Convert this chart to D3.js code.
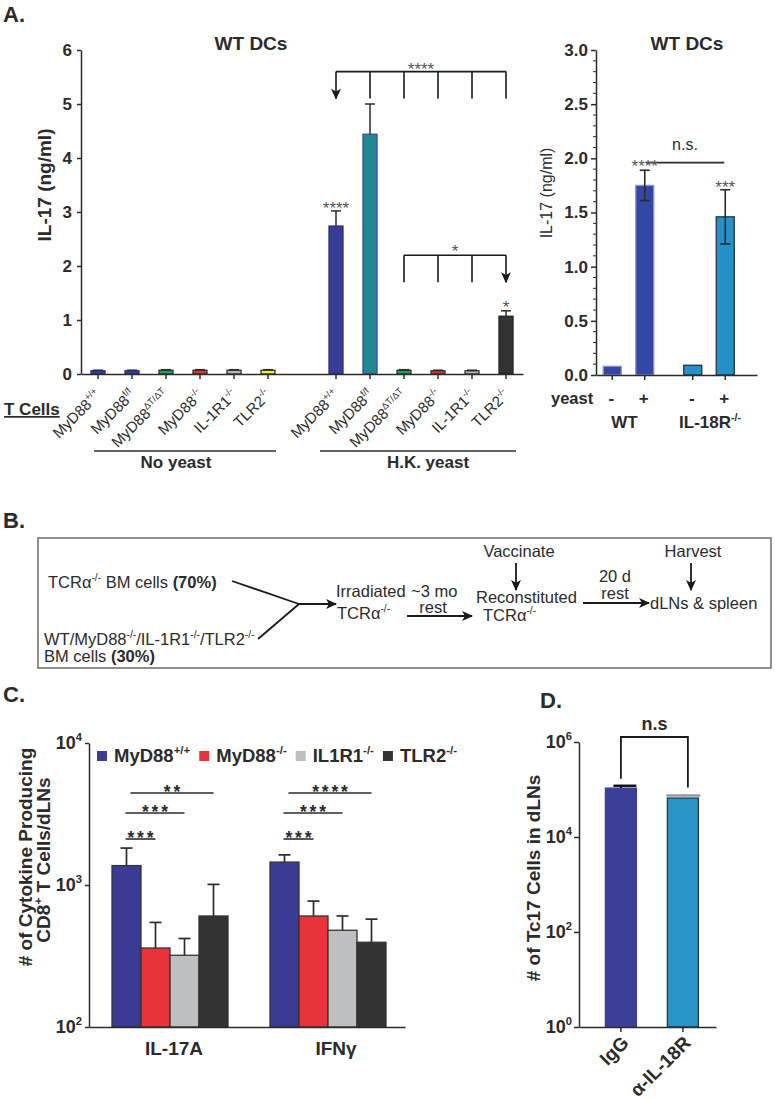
<!DOCTYPE html>
<html><head><meta charset="utf-8">
<script src="https://cdn.jsdelivr.net/npm/d3@7"></script>
<style>
body{margin:0;background:#fff}
svg text{font-family:"Liberation Sans",Arial,Helvetica,sans-serif}
</style>
</head><body>
<svg id="c" width="775" height="1100"></svg>
<script>
// ---------------- DATA ----------------
// Panel A (left): IL-17 (ng/ml), T-cell genotypes with WT DCs
const aGenotypes = ["MyD88|+/+","MyD88|f/f","MyD88|ΔT/ΔT","MyD88|-/-","IL-1R1|-/-","TLR2|-/-"];
const aNoYeast    = [0.06,0.06,0.07,0.07,0.07,0.07];
const aNoYeastErr = [0.01,0.01,0.01,0.01,0.01,0.01];
const aHK         = [2.74,4.44,0.07,0.06,0.06,1.07];
const aHKErr      = [0.28,0.56,0.01,0.01,0.01,0.10];
const aYTicks     = [0,1,2,3,4,5,6];
// Panel A (right)
const a2Groups = ["WT","IL-18R"];
const a2Yeast  = ["-","+"];
const a2Values = [[0.08,1.75],[0.09,1.46]];
const a2Err    = [[0,0.14],[0,0.25]];
const a2YTicks = [0,0.5,1,1.5,2,2.5,3];
// Panel C
const cCytokines = ["IL-17A","IFNγ"];
const cGenotypes = ["MyD88|+/+","MyD88|-/-","IL1R1|-/-","TLR2|-/-"];
const cValues    = [[1370,360,320,605],[1450,605,480,395]];
const cErrTop    = [[1820,545,420,1010],[1630,770,605,575]];
const cSig       = [["***","***","**"],["***","***","****"]];
const cYTicks    = [100,1000,10000];
// Panel D
const dGroups  = ["IgG","α-IL-18R"];
const dValues  = [1.07e5,6.6e4];
const dErrTop  = [1.2e5,7.5e4];
const dYTicks  = [1,100,1e4,1e6];

// ---------------- STYLE ----------------
const INK = "#2b2b2b";
const aFillNo  = ["#383c97","#383c97","#16a05a","#e5303a","#b3b3b3","#f3ea2b"];
const aFillHK  = ["#383c97","#21888e","#16a05a","#e5303a","#b3b3b3","#333333"];
const aStrokeHK= ["#2c2f78","#3b48a8","#333","#333","#333","#222"];
const a2Fill   = ["#3446a6","#2690c9"];
const a2Stroke = ["#8a94d0","#1f3444"];
const cFill    = ["#3b3b95","#e9333b","#bdbfc1","#333333"];
const dFill    = ["#3c3f97","#2a94c6"];
const dStroke  = ["#3c3f97","#1d3a4c"];
const dCap     = ["#111","#999"];

const svg = d3.select("#c");
const defs = svg.append("defs");
defs.append("marker").attr("id","arr").attr("viewBox","0 0 10 10")
  .attr("refX",9).attr("refY",5).attr("markerWidth",11).attr("markerHeight",11)
  .attr("markerUnits","userSpaceOnUse").attr("orient","auto")
  .append("path").attr("d","M0,0.5 L10,5 L0,9.5 L2.5,5 Z").attr("fill","#1a1a1a");

function rich(sel, str, fs){
  const parts = Array.isArray(str) ? str : (str.includes("|") ? [str.split("|")[0], "^"+str.split("|")[1]] : [str]);
  sel.text(null);
  let raised = false;
  parts.forEach(p=>{
    const t = sel.append("tspan");
    if (p.startsWith("^")) {
      t.text(p.slice(1)).attr("font-size", fs*0.62).attr("dy", raised?0:-fs*0.42);
      raised = true;
    } else {
      let s = p;
      if (p.startsWith("*")) { s = p.slice(1); t.attr("font-weight","bold"); }
      t.text(s).attr("dy", raised? fs*0.42 : 0);
      raised = false;
    }
  });
  return sel;
}
function styleAxis(g, fs, weight){
  g.select(".domain").attr("stroke",INK).attr("stroke-width",1.5);
  g.selectAll(".tick line").attr("stroke",INK).attr("stroke-width",1.5);
  g.selectAll(".tick text").attr("font-size",fs).attr("font-weight",weight).attr("fill",INK)
   .attr("font-family",'"Liberation Sans",Arial,sans-serif');
}
function supTicks(g, fs){
  g.selectAll(".tick text").each(function(d){
    const t = d3.select(this); t.text(null);
    t.append("tspan").text("10");
    t.append("tspan").attr("font-size",fs*0.62).attr("dy",-fs*0.45).text(Math.round(Math.log10(d)));
  });
}
function label(g, x, y, txt, fs, weight, anchor, fill){
  return g.append("text").attr("x",x).attr("y",y).attr("font-size",fs)
    .attr("font-weight",weight||"normal").attr("text-anchor",anchor||"start")
    .attr("fill",fill||INK).text(txt);
}
function arrowLine(g, x1,y1,x2,y2, w){
  g.append("line").attr("x1",x1).attr("y1",y1).attr("x2",x2).attr("y2",y2)
    .attr("stroke","#1a1a1a").attr("stroke-width",w||1.8).attr("marker-end","url(#arr)");
}
function plainLine(g, x1,y1,x2,y2, w, c){
  g.append("line").attr("x1",x1).attr("y1",y1).attr("x2",x2).attr("y2",y2)
    .attr("stroke",c||"#1a1a1a").attr("stroke-width",w||1.6);
}

// ---------------- PANEL LETTERS ----------------
label(svg,3,22,"A.",22,"bold");
label(svg,3,528,"B.",22,"bold");
label(svg,3,702,"C.",22,"bold");
label(svg,540,708,"D.",22,"bold");

// ---------------- PANEL A LEFT ----------------
{
const g = svg.append("g");
const y = d3.scaleLinear().domain([0,6]).range([374,50]);
const slots = [...aGenotypes.map(d=>"N:"+d),"gap",...aGenotypes.map(d=>"H:"+d)];
const x = d3.scaleBand().domain(slots).range([81,523]).paddingInner(0.588).paddingOuter(0.294);
const bw = x.bandwidth();
const bars = [
  ...aGenotypes.map((d,i)=>({k:"N:"+d, v:aNoYeast[i], e:aNoYeastErr[i], f:aFillNo[i], s:i<2?"#2c2f78":"#333"})),
  ...aGenotypes.map((d,i)=>({k:"H:"+d, v:aHK[i], e:aHKErr[i], f:aFillHK[i], s:aStrokeHK[i]}))
];
g.selectAll("rect.b").data(bars).join("rect").attr("class","b")
  .attr("x",d=>x(d.k)).attr("width",bw).attr("y",d=>y(d.v)).attr("height",d=>y(0)-y(d.v))
  .attr("fill",d=>d.f).attr("stroke",d=>d.s).attr("stroke-width",1.3);
bars.forEach(d=>{
  const cx = x(d.k)+bw/2;
  plainLine(g,cx,y(d.v),cx,y(d.v+d.e),1.5,INK);
  plainLine(g,cx-5,y(d.v+d.e),cx+5,y(d.v+d.e),1.5,INK);
});
const ya = g.append("g").attr("transform","translate(81,0)")
  .call(d3.axisLeft(y).tickValues(aYTicks).tickSize(4).tickPadding(5).tickSizeOuter(0).tickFormat(d3.format("d")));
styleAxis(ya,17,"bold");
const xa = g.append("g").attr("transform","translate(0,374)")
  .call(d3.axisBottom(x).tickValues(slots.filter(s=>s!=="gap")).tickSize(5).tickSizeOuter(0).tickFormat(""));
styleAxis(xa,15,"normal");
slots.filter(s=>s!=="gap").forEach(s=>{
  const cx = x(s)+bw/2;
  const t = g.append("text").attr("transform",`translate(${cx+4},396) rotate(-45)`)
    .attr("text-anchor","end").attr("font-size",15).attr("fill",INK);
  rich(t, s.slice(2), 15);
});
label(g,251,50,"WT DCs",19,"bold","middle");
g.append("text").attr("transform","translate(51,185) rotate(-90)").attr("text-anchor","middle")
  .attr("font-size",19).attr("font-weight","bold").attr("fill",INK).text("IL-17 (ng/ml)");
label(g,4,415,"T Cells",17,"bold").attr("text-decoration","underline");
const cN0 = x(slots[0])+bw/2, cN5 = x(slots[5])+bw/2, cH0 = x(slots[7])+bw/2, cH5 = x(slots[12])+bw/2;
plainLine(g,cN0-4,451,cN5+8,451,1.6,INK);
plainLine(g,cH0-16,451,cH5+10,451,1.6,INK);
label(g,(cN0+cN5)/2-7,468,"No yeast",17,"bold","middle");
label(g,(cH0+cH5)/2+7,468,"H.K. yeast",17,"bold","middle");
const hx = i => x("H:"+aGenotypes[i])+bw/2;
const b1 = y(5.6), b1b = y(5.1);
plainLine(g,hx(0),b1,hx(5),b1,1.6);
[1,2,3,4,5].forEach(i=>plainLine(g,hx(i),b1,hx(i),b1b,1.6));
arrowLine(g,hx(0),b1,hx(0),b1b,1.6);
label(g,(hx(0)+hx(5))/2,b1+3,"****",17,"normal","middle","#555");
const b2 = y(2.2), b2b = y(1.7);
plainLine(g,hx(2),b2,hx(5),b2,1.6);
[2,3,4].forEach(i=>plainLine(g,hx(i),b2,hx(i),b2b,1.6));
arrowLine(g,hx(5),b2,hx(5),b2b,1.6);
label(g,(hx(2)+hx(5))/2,b2+2,"*",17,"normal","middle","#555");
label(g,hx(0),y(aHK[0]+aHKErr[0])+3,"****",17,"normal","middle","#555");
label(g,hx(5),y(aHK[5]+aHKErr[5])+2,"*",17,"normal","middle","#555");
}

// ---------------- PANEL A RIGHT ----------------
{
const g = svg.append("g");
const y = d3.scaleLinear().domain([0,3]).range([375,50]);
const xg = d3.scaleBand().domain(a2Groups).range([596,757]);
const xi = d3.scaleBand().domain(a2Yeast).range([0,65]).paddingInner(0.446).paddingOuter(0.223);
const bw = xi.bandwidth();
const bars = [];
a2Groups.forEach((gr,gi)=>a2Yeast.forEach((ye,yi)=>bars.push({gr,ye,gi,v:a2Values[gi][yi],e:a2Err[gi][yi]})));
const bx = d=>xg(d.gr)+xi(d.ye);
g.selectAll("rect").data(bars).join("rect")
  .attr("x",bx).attr("width",bw).attr("y",d=>y(d.v)).attr("height",d=>y(0)-y(d.v))
  .attr("fill",d=>a2Fill[d.gi]).attr("stroke",d=>a2Stroke[d.gi]).attr("stroke-width",1.3);
bars.filter(d=>d.e>0).forEach(d=>{
  const cx = bx(d)+bw/2;
  plainLine(g,cx,y(d.v-d.e),cx,y(d.v+d.e),1.6,INK);
  plainLine(g,cx-5,y(d.v+d.e),cx+5,y(d.v+d.e),1.6,INK);
  plainLine(g,cx-5,y(d.v-d.e),cx+5,y(d.v-d.e),1.6,INK);
});
const ya = g.append("g").attr("transform","translate(596,0)")
  .call(d3.axisLeft(y).tickValues(a2YTicks).tickSize(5).tickPadding(3).tickSizeOuter(0).tickFormat(d3.format(".1f")));
styleAxis(ya,17,"bold");
const minor = d3.range(0,3.001,0.1).filter(v=>Math.abs(v*2-Math.round(v*2))>1e-6);
g.selectAll("line.mn").data(minor).join("line").attr("class","mn")
  .attr("x1",593).attr("x2",596).attr("y1",d=>y(d)).attr("y2",d=>y(d)).attr("stroke",INK).attr("stroke-width",1);
const xa = g.append("g").attr("transform","translate(0,375)")
  .call(d3.axisBottom(xg).tickValues([]).tickSizeOuter(0));
styleAxis(xa,15,"normal");
bars.forEach(d=>plainLine(g,bx(d)+bw/2,375,bx(d)+bw/2,380,1.5,INK));
label(g,687,50,"WT DCs",19,"bold","middle");
g.append("text").attr("transform","translate(552,193) rotate(-90)").attr("text-anchor","middle")
  .attr("font-size",16).attr("fill",INK).text("IL-17 (ng/ml)");
const c1 = xg(a2Groups[0])+xi("+")+bw/2, c2 = xg(a2Groups[1])+xi("+")+bw/2;
plainLine(g,c1+1,y(1.96),c2-1,y(1.96),1.6,INK);
label(g,(c1+c2)/2,150,"n.s.",16,"normal","middle");
label(g,c1,y(a2Values[0][1]+a2Err[0][1])+2,"****",17,"normal","middle","#555");
label(g,c2,y(a2Values[1][1]+a2Err[1][1])+3,"***",17,"normal","middle","#555");
label(g,551,404,"yeast",16.5,"bold");
bars.forEach(d=>label(g,bx(d)+bw/2-1,404,d.ye,17,"bold","middle"));
a2Groups.forEach((gr,gi)=>{
  const t = g.append("text").attr("x",xg(gr)+(xi("-")+xi("+")+bw)/2+(gi?1:-4)).attr("y",428)
    .attr("text-anchor","middle").attr("font-size",17).attr("font-weight","bold").attr("fill",INK);
  rich(t, gi? "IL-18R|-/-" : "WT", 17);
});
}

// ---------------- PANEL B ----------------
{
const g = svg.append("g");
g.append("rect").attr("x",38).attr("y",538).attr("width",733).attr("height",130)
  .attr("fill","none").attr("stroke","#555").attr("stroke-width",1.3);
const fs = 16.5;
rich(label(g,48,588,"",fs), ["TCRα","^-/-"," BM cells ","*(70%)"], fs);
rich(label(g,44,645,"",fs), ["WT/MyD88","^-/-","/IL-1R1","^-/-","/TLR2","^-/-"], fs);
rich(label(g,44,662,"",fs), ["BM cells ","*(30%)"], fs);
plainLine(g,232,581,299,604,1.8);
plainLine(g,258,639,299,604,1.8);
arrowLine(g,299,604,336,604,1.8);
label(g,336,597,"Irradiated",fs);
rich(label(g,337,619,"",fs), ["TCRα","^-/-"], fs);
label(g,411,597,"~3 mo",fs);
label(g,433,613,"rest",fs,"normal","middle");
arrowLine(g,407,616,472,616,1.8);
label(g,519,557,"Vaccinate",fs,"normal","middle");
arrowLine(g,516,563,516,590,1.8);
label(g,476,603,"Reconstituted",fs);
rich(label(g,483,621,"",fs), ["TCRα","^-/-"], fs);
label(g,615,582,"20 d",fs,"normal","middle");
label(g,615,599,"rest",fs,"normal","middle");
arrowLine(g,583,603,649,603,1.8);
label(g,693,557,"Harvest",fs,"normal","middle");
arrowLine(g,691,563,691,590,1.8);
label(g,650,609,"dLNs & spleen",fs);
}

// ---------------- PANEL C ----------------
{
const g = svg.append("g");
const y = d3.scaleLog().domain([100,10000]).range([1027,743]);
const xg = d3.scaleBand().domain(cCytokines).range([89,405]);
const xi = d3.scaleBand().domain(cGenotypes).range([23,139]);
const bw = xi.bandwidth();
const bars = [];
cCytokines.forEach((c,ci)=>cGenotypes.forEach((gt,gi)=>bars.push({c,ci,gt,gi,v:cValues[ci][gi],e:cErrTop[ci][gi]})));
const bx = d=>xg(d.c)+xi(d.gt);
bars.forEach(d=>{
  const cx = bx(d)+bw/2;
  plainLine(g,cx,y(d.v),cx,y(d.e),1.7,INK);
  plainLine(g,cx-6,y(d.e),cx+6,y(d.e),1.7,INK);
});
g.selectAll("rect.b").data(bars).join("rect").attr("class","b")
  .attr("x",bx).attr("width",bw).attr("y",d=>y(d.v)).attr("height",d=>y(100)-y(d.v))
  .attr("fill",d=>cFill[d.gi]).attr("stroke","#333").attr("stroke-width",1.3);
const ya = g.append("g").attr("transform","translate(89,0)")
  .call(d3.axisLeft(y).tickValues(cYTicks).tickSize(4).tickPadding(3).tickSizeOuter(0));
styleAxis(ya,18,"bold"); supTicks(ya,18);
const xa = g.append("g").attr("transform","translate(0,1027)")
  .call(d3.axisBottom(xg).tickValues([]).tickSizeOuter(0));
styleAxis(xa,18,"bold");
cCytokines.forEach((c,ci)=>label(g,xg(c)+xg.bandwidth()/2+(ci?10:6),1055,c,19,"bold","middle"));
g.append("text").attr("transform","translate(32,857) rotate(-90)").attr("text-anchor","middle")
  .attr("font-size",19).attr("font-weight","bold").attr("fill",INK).text("# of Cytokine Producing");
rich(g.append("text").attr("transform","translate(50,860) rotate(-90)").attr("text-anchor","middle")
  .attr("font-size",19).attr("font-weight","bold").attr("fill",INK), ["CD8","^+"," T Cells/dLNs"], 19);
let lx = 97;
cGenotypes.forEach((gt,gi)=>{
  g.append("rect").attr("x",lx).attr("y",751).attr("width",10).attr("height",10).attr("fill",cFill[gi]);
  const t = label(g,lx+17,762,"",18.5,"bold");
  rich(t, gt, 18.5);
  lx = lx + 17 + t.node().getComputedTextLength() + 9;
});
const sigY = [839,813,793];
cCytokines.forEach((c,ci)=>{
  const c0 = xg(c)+xi(cGenotypes[0])+bw/2;
  [1,2,3].forEach(k=>{
    const ck = xg(c)+xi(cGenotypes[k])+bw/2;
    const x0 = c0 + (k===3?4:-1);
    plainLine(g,x0,sigY[k-1],ck,sigY[k-1],1.6,INK);
    label(g,(x0+ck)/2+1.4,sigY[k-1]+5,cSig[ci][k-1],17.5,"bold","middle")
      .attr("letter-spacing",2.8);
  });
});
}

// ---------------- PANEL D ----------------
{
const g = svg.append("g");
const y = d3.scaleLog().domain([1,1e6]).range([1027,742]);
const x = d3.scaleBand().domain(dGroups).range([579,716]).paddingInner(0.5).paddingOuter(0.355).align(0.6);
const bw = x.bandwidth();
g.selectAll("rect").data(dGroups).join("rect")
  .attr("x",d=>x(d)).attr("width",bw).attr("y",(d,i)=>y(dValues[i])).attr("height",(d,i)=>y(1)-y(dValues[i]))
  .attr("fill",(d,i)=>dFill[i]).attr("stroke",(d,i)=>dStroke[i]).attr("stroke-width",1.3);
dGroups.forEach((d,i)=>{
  const cx = x(d)+bw/2;
  plainLine(g,cx,y(dValues[i]),cx,y(dErrTop[i]),2,dCap[i]);
  plainLine(g,x(d)-(i?1:-8)+0,y(dErrTop[i]),x(d)+bw+(i?2:0),y(dErrTop[i]),2.4,dCap[i]);
});
const ya = g.append("g").attr("transform","translate(579,0)")
  .call(d3.axisLeft(y).tickValues(dYTicks).tickSize(5).tickPadding(2).tickSizeOuter(0));
styleAxis(ya,18,"bold"); supTicks(ya,18);
const xa = g.append("g").attr("transform","translate(0,1027)")
  .call(d3.axisBottom(x).tickSize(5).tickSizeOuter(0).tickFormat(""));
styleAxis(xa,18,"bold");
dGroups.forEach(d=>{
  g.append("text").attr("transform",`translate(${x(d)+bw/2+9},1044) rotate(-45)`)
    .attr("text-anchor","end").attr("font-size",19).attr("font-weight","bold").attr("fill",INK).text(d);
});
g.append("text").attr("transform","translate(540,878) rotate(-90)").attr("text-anchor","middle")
  .attr("font-size",19).attr("font-weight","bold").attr("fill",INK).text("# of Tc17 Cells in dLNs");
const c1 = x(dGroups[0])+bw/2, c2 = x(dGroups[1])+bw/2+5;
const top = 737;
g.append("path").attr("d",`M${c1},${y(dErrTop[0])-7}V${top}H${c2}V${y(dErrTop[1])-8}`)
  .attr("fill","none").attr("stroke","#1a1a1a").attr("stroke-width",1.8);
label(g,(c1+c2)/2,730,"n.s",18,"bold","middle");
}
</script>
</body></html>
